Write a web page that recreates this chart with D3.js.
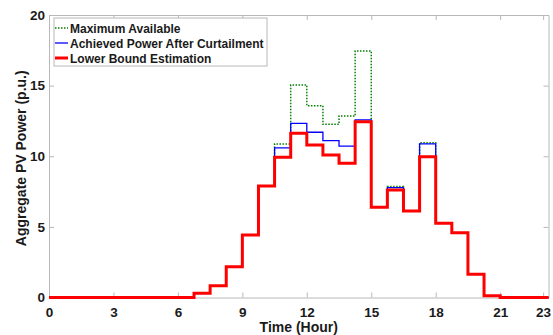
<!DOCTYPE html>
<html>
<head>
<meta charset="utf-8">
<script src="https://cdn.jsdelivr.net/npm/d3@7"></script>
<style>
  body { margin: 0; background: #fff; }
  svg text { font-family: "Liberation Sans", Arial, sans-serif; font-weight: bold; fill: #1a1a1a; }
</style>
</head>
<body>
<svg id="chart" width="553" height="335"></svg>
<script>
// step edges (hours) and the three series, one value per edge (stairs)
var hours = [0, 0.75, 1.5, 2.25, 3, 3.75, 4.5, 5.25, 6, 6.75, 7.5, 8.25, 9, 9.75, 10.5, 11.25,
  12, 12.75, 13.5, 14.25, 15, 15.75, 16.5, 17.25, 18, 18.75, 19.5, 20.25, 21, 21.75, 22.5, 23.25];

var maxAvailable = [0, 0, 0, 0, 0, 0, 0, 0, 0, 0.3, 0.84, 2.18, 4.42, 7.89, 10.87, 15.04,
  13.58, 12.26, 12.85, 17.45, 6.39, 7.85, 6.12, 10.96, 5.25, 4.59, 1.64, 0.13, 0, 0, 0, 0];

var achieved = [0, 0, 0, 0, 0, 0, 0, 0, 0, 0.3, 0.84, 2.18, 4.42, 7.89, 10.6, 12.33,
  11.7, 11.1, 10.72, 12.57, 6.39, 7.78, 6.12, 10.87, 5.25, 4.59, 1.64, 0.13, 0, 0, 0, 0];

var lowerBound = [0, 0, 0, 0, 0, 0, 0, 0, 0, 0.3, 0.84, 2.18, 4.42, 7.89, 9.93, 11.62,
  10.8, 10.09, 9.5, 12.45, 6.39, 7.61, 6.12, 9.97, 5.25, 4.59, 1.64, 0.13, 0, 0, 0, 0];

var xTicks = [0, 3, 6, 9, 12, 15, 18, 21, 23];
var yTicks = [0, 5, 10, 15, 20];
var seriesNames = ['Maximum Available', 'Achieved Power After Curtailment', 'Lower Bound Estimation'];

(function (d3) {
  'use strict';
  var svg = d3.select('#chart');
  var margin = { left: 49, top: 15, right: 4.5, bottom: 37.5 };
  var width = 553 - margin.left - margin.right;
  var height = 335 - margin.top - margin.bottom;
  var axisColor = '#b8b8b8';

  var x = d3.scaleLinear().domain([0, 23.25]).range([0, width]);
  var y = d3.scaleLinear().domain([0, 20]).range([height, 0]);

  var g = svg.append('g').attr('transform', 'translate(' + margin.left + ',' + margin.top + ')');

  /** axes, MATLAB style: ticks inside, box on */
  var styleAxis = function (sel, showLabels) {
    sel.select('.domain').attr('stroke', axisColor);
    sel.selectAll('.tick line').attr('stroke', axisColor);
    sel.selectAll('.tick text').attr('font-size', 13.5).attr('fill', '#1a1a1a')
      .style('display', showLabels ? null : 'none');
  };

  g.append('g').attr('transform', 'translate(0,' + height + ')')
    .call(d3.axisBottom(x).tickValues(xTicks).tickSize(-5).tickSizeOuter(0).tickPadding(10))
    .call(styleAxis, true);
  g.append('g')
    .call(d3.axisTop(x).tickValues(xTicks).tickSize(-5).tickSizeOuter(0))
    .call(styleAxis, false);
  g.append('g')
    .call(d3.axisLeft(y).tickValues(yTicks).tickSize(-5).tickSizeOuter(0).tickPadding(4))
    .call(styleAxis, true);
  g.append('g').attr('transform', 'translate(' + width + ',0)')
    .call(d3.axisRight(y).tickValues(yTicks).tickSize(-5).tickSizeOuter(0))
    .call(styleAxis, false);
  g.selectAll('.domain').attr('stroke', axisColor);

  /** series */
  var line = d3.line()
    .x(function (d) { return x(d[0]); })
    .y(function (d) { return y(d[1]); })
    .curve(d3.curveStepAfter);

  var series = [
    { values: maxAvailable, color: '#008000', width: 1.5, dash: '1.5,1.5' },
    { values: achieved, color: '#0000ff', width: 1.3, dash: null },
    { values: lowerBound, color: '#ff0000', width: 3, dash: null }
  ];

  series.forEach(function (s) {
    g.append('path')
      .datum(d3.zip(hours, s.values))
      .attr('d', line)
      .attr('fill', 'none')
      .attr('stroke', s.color)
      .attr('stroke-width', s.width)
      .attr('stroke-dasharray', s.dash);
  });

  /** axis titles */
  svg.append('text')
    .attr('x', margin.left + width / 2).attr('y', 332)
    .attr('text-anchor', 'middle').attr('font-size', 14)
    .text('Time (Hour)');
  svg.append('text')
    .attr('transform', 'translate(26,' + (margin.top + height / 2 + 2) + ') rotate(-90)')
    .attr('text-anchor', 'middle').attr('font-size', 14)
    .text('Aggregate PV Power (p.u.)');

  /** legend */
  var legend = svg.append('g').attr('transform', 'translate(54,18)');
  legend.append('rect')
    .attr('width', 213).attr('height', 48)
    .attr('fill', '#fff').attr('stroke', axisColor);
  series.forEach(function (s, i) {
    var ly = 10 + i * 15;
    legend.append('line')
      .attr('x1', 1).attr('x2', 14).attr('y1', ly).attr('y2', ly)
      .attr('stroke', s.color)
      .attr('stroke-width', s.width)
      .attr('stroke-dasharray', s.dash);
    legend.append('text')
      .attr('x', 16).attr('y', ly + 4.5)
      .attr('font-size', 12)
      .text(seriesNames[i]);
  });
})(d3);
</script>
</body>
</html>
